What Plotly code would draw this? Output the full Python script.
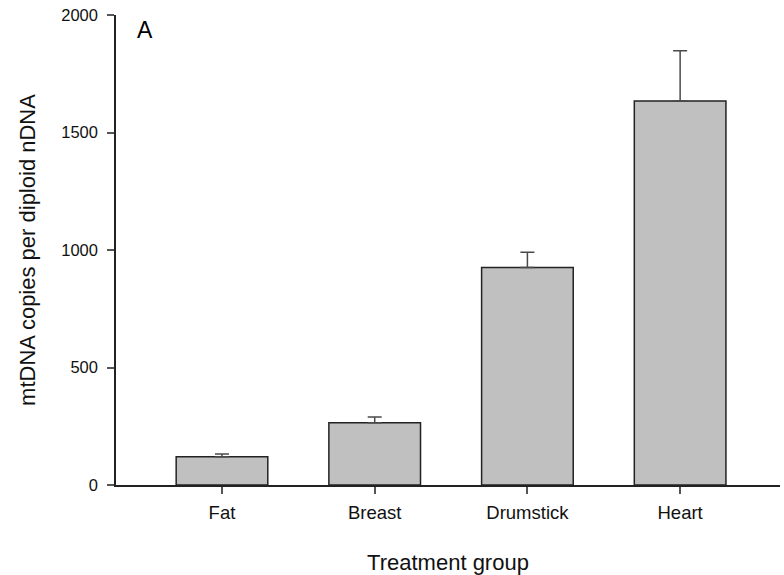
import plotly.graph_objects as go

# mtDNA copy number per tissue (mean with SE shown as upward error bar)
groups = ["Fat", "Breast", "Drumstick", "Heart"]
mean_copies = [120, 265, 926, 1634]
se_copies = [12, 24, 64, 214]
y_ticks = [0, 500, 1000, 1500, 2000]

FONT = "Liberation Sans, Arial, sans-serif"

fig = go.Figure(
    go.Bar(
        x=groups,
        y=mean_copies,
        width=0.6,
        marker=dict(color="#c0c0c0", line=dict(color="#222222", width=1.5)),
        error_y=dict(
            type="data",
            array=se_copies,
            symmetric=False,
            arrayminus=[0] * len(se_copies),
            color="#4a4a4a",
            thickness=1.5,
            width=7,
        ),
    )
)

fig.update_layout(
    width=784,
    height=575,
    margin=dict(l=116, r=4, t=15, b=90),
    paper_bgcolor="white",
    plot_bgcolor="white",
    showlegend=False,
    font=dict(family=FONT, color="#111111", size=17),
    xaxis=dict(
        type="category",
        range=[-0.694, 3.654],
        showline=True,
        linecolor="#222222",
        linewidth=1.5,
        ticks="outside",
        ticklen=7,
        tickwidth=1.5,
        tickcolor="#555555",
        tickfont=dict(size=18.5),
        ticklabelstandoff=3,
        showgrid=False,
        zeroline=False,
        title=dict(text="Treatment group", font=dict(size=22), standoff=34),
    ),
    yaxis=dict(
        range=[0, 2000],
        tickvals=y_ticks,
        showline=True,
        linecolor="#222222",
        linewidth=1.5,
        ticks="outside",
        ticklen=7,
        tickwidth=1.5,
        tickcolor="#555555",
        tickfont=dict(size=16.5),
        ticklabelstandoff=6,
        showgrid=False,
        zeroline=False,
        title=dict(text="mtDNA copies per diploid nDNA", font=dict(size=22), standoff=20),
    ),
    annotations=[
        dict(
            text="A",
            x=0.028,
            y=1.0,
            xref="paper",
            yref="paper",
            xanchor="left",
            yanchor="top",
            showarrow=False,
            font=dict(size=23, color="#000000"),
        )
    ],
)

fig.write_html("out.html")
